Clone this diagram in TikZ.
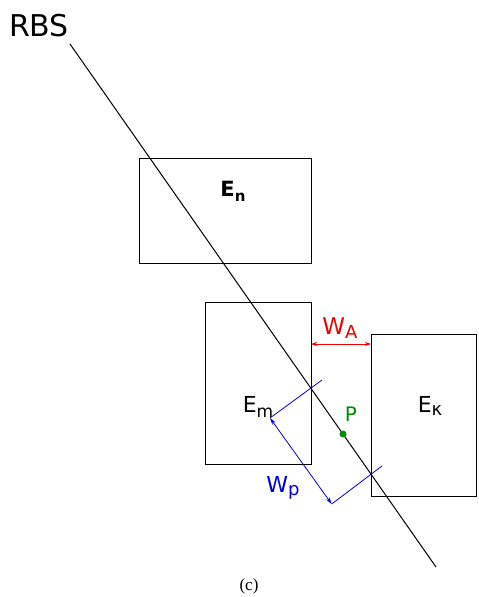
\documentclass[tikz,border=0pt]{standalone}
\usepackage{fontspec}
\setmainfont{DejaVu Sans}
\newfontfamily\capfont{Liberation Serif}
\usetikzlibrary{arrows.meta}
\definecolor{redA}{RGB}{240,0,0}
\definecolor{blueP}{RGB}{0,0,220}
\definecolor{greenP}{RGB}{0,140,0}
\newcommand{\fs}[1]{\fontsize{#1}{#1}\selectfont}
\begin{document}
\begin{tikzpicture}[x=1pt,y=-1pt,
  box/.style={draw,line width=1pt},
  lbl/.style={inner sep=0pt,text=black},
  tick/.style={draw=blueP,line width=0.8pt}]
\useasboundingbox (0,0) rectangle (479,597);
% RBS line
\coordinate (r0) at (70,44);
\coordinate (r1) at (436,567);
\draw[line width=1pt] (r0) -- (r1);
\node[lbl] (rbs) at (39,26) {\fs{30}RBS};
% boxes
\node[box,minimum width=172pt,minimum height=105pt,inner sep=0pt] (bn) at (225,210.5) {};
\node[box,minimum width=106pt,minimum height=162pt,inner sep=0pt] (bm) at (258,383) {};
\node[box,minimum width=105pt,minimum height=162pt,inner sep=0pt] (bk) at (423.5,415) {};
\node[lbl] (en) at (233,191) {\fs{21}\bfseries E\raisebox{-0.45ex}{\fs{15}n}};
\node[lbl] (em) at (258,407) {\fs{22}E\raisebox{-0.35ex}{\fs{17}m}};
\node[lbl] (ek) at (430,406) {\fs{22}E\raisebox{-0.3ex}{\fs{18}κ}};
% WA
\coordinate (wa0) at (311,344);
\coordinate (wa1) at (371,344);
\draw[redA,line width=0.8pt,{Stealth[length=6pt,width=4pt]}-{Stealth[length=6pt,width=4pt]}] (wa0) -- (wa1);
\node[lbl,text=redA] (wa) at (340,328) {\fs{23}W\raisebox{-0.3ex}{\fs{18}A}};
% P
\node[circle,fill=greenP,inner sep=0pt,minimum size=7pt] (p) at (343,434) {};
\node[lbl,text=greenP] (pl) at (351,414) {\fs{20}P};
% Wp
\coordinate (t1a) at (270,418);
\coordinate (t1b) at (322,380);
\coordinate (t2a) at (331.7,504);
\coordinate (t2b) at (382,466);
\draw[tick] (t1a) -- (t1b);
\draw[tick] (t2a) -- (t2b);
\draw[blueP,line width=0.8pt,{Stealth[length=7pt,width=4pt]}-{Stealth[length=7pt,width=4pt]}] (t1a) -- (t2a);
\node[lbl,text=blueP] (wp) at (283,488) {\fs{22}W\raisebox{-0.3ex}{\fs{18}p}};
% caption
\node[lbl] (cap) at (249,586) {\capfont\fs{17}(c)};
\end{tikzpicture}
\end{document}
